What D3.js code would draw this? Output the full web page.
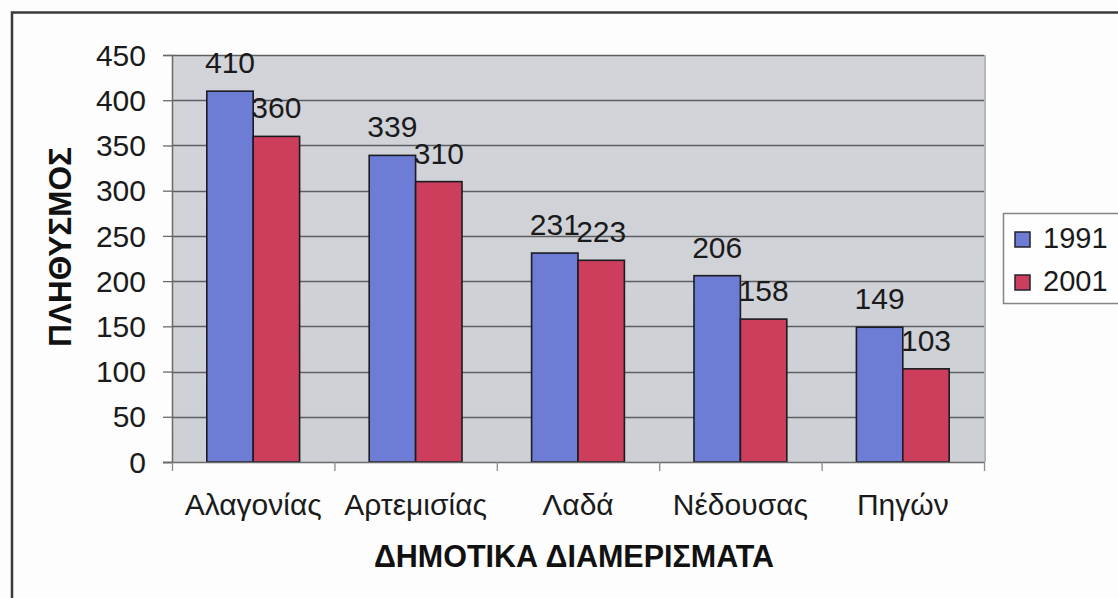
<!DOCTYPE html>
<html>
<head>
<meta charset="utf-8">
<script src="https://cdn.jsdelivr.net/npm/d3@7"></script>
<style>
  html, body { margin: 0; padding: 0; background: #fcfdfc; }
  svg { display: block; font-family: "Liberation Sans", Arial, sans-serif; }
</style>
</head>
<body>
<svg id="chart" width="1118" height="598"></svg>
<script>
// Population per municipal district, censuses 1991 and 2001
const categories = ["Αλαγονίας", "Αρτεμισίας", "Λαδά", "Νέδουσας", "Πηγών"];
const seriesNames = ["1991", "2001"];
const values1991 = [410, 339, 231, 206, 149];
const values2001 = [360, 310, 223, 158, 103];
const yTicks = [0, 50, 100, 150, 200, 250, 300, 350, 400, 450];
const seriesColors = ["#6d7dd6", "#cc3e5c"];

const svg = d3.select("#chart");

// outer frame
svg.append("path")
  .attr("d", "M12,600 L12,12.5 L1120,12.5")
  .attr("fill", "none").attr("stroke", "#3a3a3a").attr("stroke-width", 2.5);

const plot = { left: 172, right: 984, top: 55, bottom: 462 };

const y = d3.scaleLinear().domain([0, 450]).range([plot.bottom, plot.top]);
const x = d3.scaleBand().domain(categories).range([plot.left, plot.right]).paddingInner(0).paddingOuter(0);
const xs = d3.scaleBand().domain(seriesNames).range([0, x.bandwidth()]).paddingInner(0).paddingOuter(0.75);
const xEdge = d3.scaleLinear().domain([0, categories.length]).range([plot.left, plot.right]);

// plot background
const grad = svg.append("defs").append("linearGradient").attr("id", "bg")
  .attr("x1", "0").attr("y1", "0").attr("x2", "0").attr("y2", "1");
grad.append("stop").attr("offset", "0").attr("stop-color", "#d2d4d9");
grad.append("stop").attr("offset", "1").attr("stop-color", "#cdd0d5");
svg.append("rect")
  .attr("x", plot.left).attr("y", plot.top)
  .attr("width", plot.right - plot.left).attr("height", plot.bottom - plot.top)
  .attr("fill", "url(#bg)");
svg.append("line")
  .attr("x1", plot.right + 1).attr("x2", plot.right + 1)
  .attr("y1", plot.top).attr("y2", plot.bottom)
  .attr("stroke", "#b4b6ba").attr("stroke-width", 2);

// horizontal gridlines
svg.append("g").selectAll("line")
  .data(yTicks.filter(d => d > 0))
  .join("line")
  .attr("x1", plot.left).attr("x2", plot.right)
  .attr("y1", d => Math.round(y(d)) + 0.5).attr("y2", d => Math.round(y(d)) + 0.5)
  .attr("stroke", "#5e5f63").attr("stroke-width", 1.3);

// y axis
const yAxis = svg.append("g")
  .attr("transform", `translate(${plot.left},0)`)
  .call(d3.axisLeft(y).tickValues(yTicks).tickSize(9).tickPadding(17));
yAxis.select(".domain").attr("stroke", "#6a6a6a").attr("stroke-width", 1.5);
yAxis.selectAll(".tick line").attr("stroke", "#6a6a6a").attr("stroke-width", 1.3);
yAxis.selectAll(".tick text")
  .attr("font-size", 30).attr("fill", "#1a1a1a")
  .attr("font-family", "Liberation Sans, Arial, sans-serif")
  .attr("dy", "0.34em");

// bars
const series = [values1991, values2001];
const groups = svg.append("g").selectAll("g")
  .data(categories)
  .join("g")
  .attr("transform", d => `translate(${x(d)},0)`);

groups.selectAll("rect")
  .data((c, i) => seriesNames.map((s, k) => ({ s, v: series[k][i], k })))
  .join("rect")
  .attr("x", d => xs(d.s))
  .attr("width", xs.bandwidth())
  .attr("y", d => y(d.v))
  .attr("height", d => y(0) - y(d.v))
  .attr("fill", d => seriesColors[d.k])
  .attr("stroke", "#1b1b22").attr("stroke-width", 1.6);

// value labels
groups.selectAll("text")
  .data((c, i) => seriesNames.map((s, k) => ({ s, v: series[k][i], k })))
  .join("text")
  .attr("x", d => xs(d.s) + xs.bandwidth() / 2)
  .attr("y", d => y(d.v) - 18)
  .attr("text-anchor", "middle")
  .attr("font-size", 30).attr("fill", "#1a1a1a")
  .text(d => d.v);

// x axis: line and ticks on category boundaries
const xAxis = svg.append("g")
  .attr("transform", `translate(0,${plot.bottom})`)
  .call(d3.axisBottom(xEdge).ticks(categories.length).tickSize(9).tickFormat(""));
xAxis.select(".domain").attr("stroke", "#6a6a6a").attr("stroke-width", 1.5)
  .attr("d", `M${plot.left - 9},0.5H${plot.right}`);
xAxis.selectAll(".tick line").attr("stroke", "#8a8a8a").attr("stroke-width", 1.3);

// category labels
const xLabels = svg.append("g")
  .attr("transform", `translate(0,${plot.bottom})`)
  .call(d3.axisBottom(x).tickSize(0).tickPadding(0));
xLabels.select(".domain").remove();
xLabels.selectAll(".tick text")
  .attr("font-size", 30).attr("fill", "#1a1a1a")
  .attr("font-family", "Liberation Sans, Arial, sans-serif")
  .attr("dy", null).attr("y", 53);

// axis titles
svg.append("text")
  .attr("x", 574).attr("y", 567)
  .attr("text-anchor", "middle")
  .attr("font-size", 30.5).attr("font-weight", "bold").attr("fill", "#111")
  .text("ΔΗΜΟΤΙΚΑ ΔΙΑΜΕΡΙΣΜΑΤΑ");

svg.append("text")
  .attr("transform", "translate(71,247) rotate(-90)")
  .attr("text-anchor", "middle")
  .attr("font-size", 31.5).attr("font-weight", "bold").attr("fill", "#111")
  .text("ΠΛΗΘΥΣΜΟΣ");

// legend
const legend = svg.append("g").attr("transform", "translate(1003,213)");
legend.append("rect")
  .attr("x", 0.5).attr("y", 0.5).attr("width", 140).attr("height", 90)
  .attr("fill", "#fdfefd").attr("stroke", "#858585").attr("stroke-width", 1.5);
const items = legend.selectAll("g.item")
  .data(seriesNames)
  .join("g").attr("class", "item")
  .attr("transform", (d, i) => `translate(12,${19 + i * 43})`);
items.append("rect")
  .attr("width", 15).attr("height", 15)
  .attr("fill", (d, i) => seriesColors[i])
  .attr("stroke", "#22222a").attr("stroke-width", 1.5);
items.append("text")
  .attr("x", 28).attr("y", 16)
  .attr("font-size", 29).attr("fill", "#1a1a1a")
  .text(d => d);
</script>
</body>
</html>
